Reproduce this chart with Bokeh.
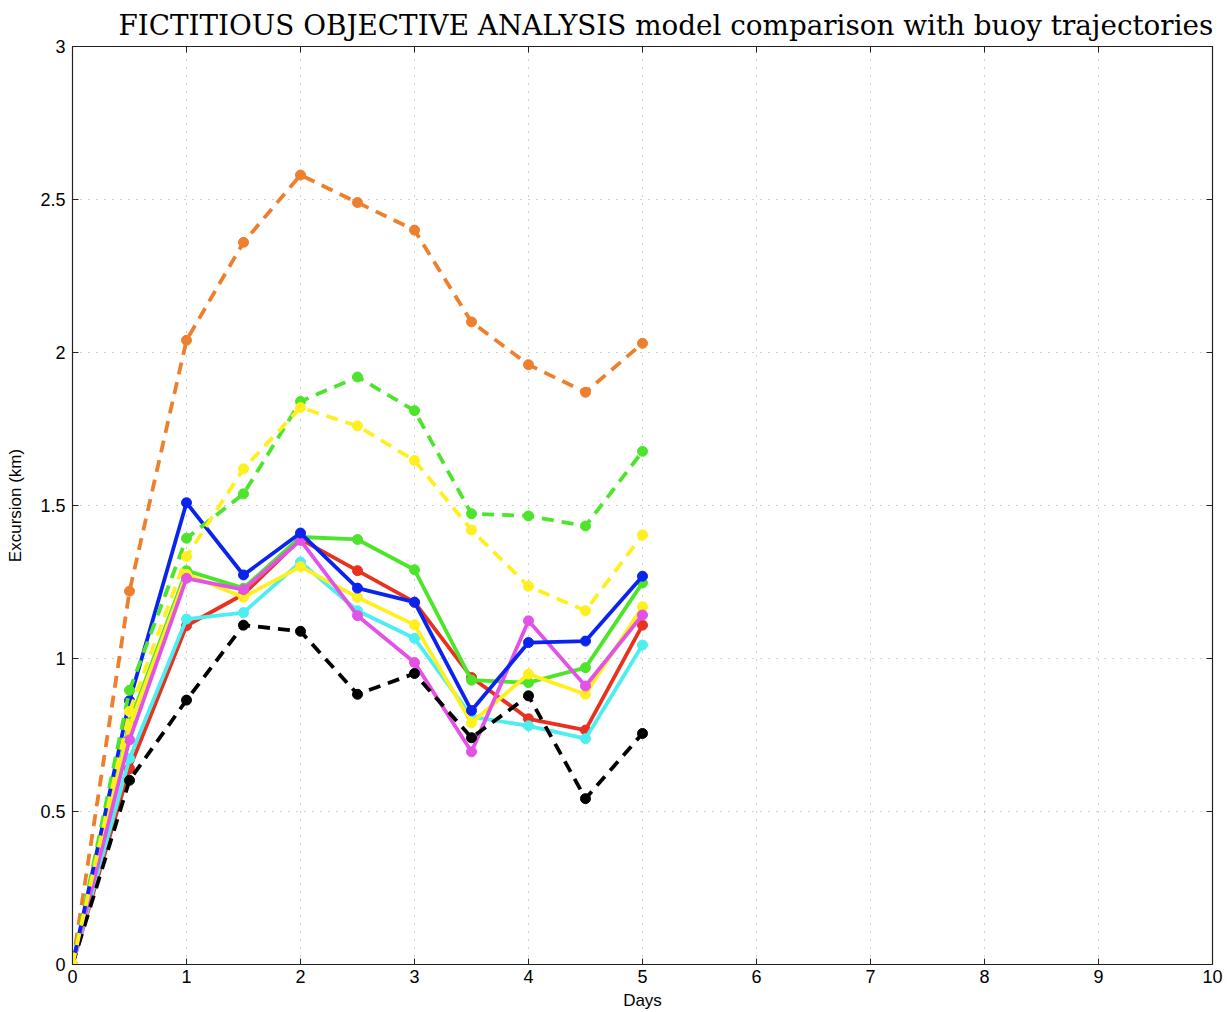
from bokeh.plotting import figure
from bokeh.models import LinearAxis, Range1d, FixedTicker
from bokeh.embed import file_html
from bokeh.resources import INLINE

days = [0, 0.5, 1, 1.5, 2, 2.5, 3, 3.5, 4, 4.5, 5]

red_solid     = [0, 0.640, 1.107, 1.210, 1.390, 1.287, 1.184, 0.938, 0.803, 0.766, 1.109]
green_solid   = [0, 0.790, 1.287, 1.230, 1.397, 1.389, 1.290, 0.929, 0.921, 0.970, 1.247]
cyan_solid    = [0, 0.673, 1.129, 1.150, 1.315, 1.156, 1.066, 0.810, 0.780, 0.738, 1.044]
yellow_solid  = [0, 0.777, 1.275, 1.200, 1.300, 1.200, 1.110, 0.790, 0.949, 0.883, 1.169]
magenta_solid = [0, 0.734, 1.262, 1.225, 1.386, 1.140, 0.987, 0.695, 1.123, 0.910, 1.142]
blue_solid    = [0, 0.862, 1.509, 1.273, 1.410, 1.230, 1.184, 0.830, 1.052, 1.057, 1.269]
black_dashed  = [0, 0.602, 0.864, 1.109, 1.089, 0.883, 0.951, 0.741, 0.878, 0.542, 0.755]
orange_dashed = [0, 1.220, 2.040, 2.360, 2.580, 2.490, 2.400, 2.100, 1.960, 1.870, 2.030]
green_dashed  = [0, 0.896, 1.393, 1.538, 1.840, 1.920, 1.810, 1.473, 1.466, 1.433, 1.677]
yellow_dashed = [0, 0.827, 1.333, 1.620, 1.820, 1.760, 1.647, 1.420, 1.236, 1.156, 1.404]

x_ticks = [0, 1, 2, 3, 4, 5, 6, 7, 8, 9, 10]
y_ticks = [0, 0.5, 1, 1.5, 2, 2.5, 3]

series = [
    (red_solid, "#E8321E", "solid"),
    (green_solid, "#4DE52C", "solid"),
    (cyan_solid, "#4CEEF2", "solid"),
    (yellow_solid, "#FFEF1F", "solid"),
    (magenta_solid, "#E352E6", "solid"),
    (blue_solid, "#0A24F0", "solid"),
    (black_dashed, "#000000", "dashed"),
    (orange_dashed, "#EE7F2D", "dashed"),
    (green_dashed, "#4DE52C", "dashed"),
    (yellow_dashed, "#FFEF1F", "dashed"),
]

p = figure(width=1227, height=1012, output_backend="svg", toolbar_location=None,
           x_range=Range1d(0, 10), y_range=Range1d(0, 3),
           min_border_left=72, min_border_right=15, min_border_top=46, min_border_bottom=48)

p.title.text = "FICTITIOUS OBJECTIVE ANALYSIS model comparison with buoy trajectories"
p.title.text_font = "DejaVu Serif"
p.title.text_font_size = "27.8px"
p.title.text_font_style = "normal"
p.title.align = "left"
p.title.offset = 46
p.title.standoff = 9
p.title.text_color = "#000000"

p.background_fill_color = "white"
p.border_fill_color = "white"
p.outline_line_color = "#222222"
p.outline_line_width = 1.2

for ax, ticks in ((p.xaxis[0], x_ticks), (p.yaxis[0], y_ticks)):
    ax.ticker = FixedTicker(ticks=ticks)
    ax.major_tick_in = 6
    ax.major_tick_out = 0
    ax.minor_tick_line_color = None
    ax.axis_line_color = "#222222"
    ax.major_tick_line_color = "#222222"
    ax.major_label_text_font = "Liberation Sans"
    ax.major_label_text_font_size = "18px"
    ax.major_label_text_color = "#000000"
    ax.axis_label_text_font = "Liberation Sans"
    ax.axis_label_text_font_size = "17px"
    ax.axis_label_text_font_style = "normal"
    ax.axis_label_text_color = "#000000"

p.xaxis[0].axis_label = "Days"
p.xaxis[0].major_label_standoff = 5
p.xaxis[0].axis_label_standoff = 5
p.yaxis[0].axis_label = "Excursion (km)"
p.yaxis[0].major_label_standoff = 7
p.yaxis[0].axis_label_standoff = 12

for loc, ticks in (("above", x_ticks), ("right", y_ticks)):
    ax = LinearAxis(ticker=FixedTicker(ticks=ticks))
    ax.major_tick_in = 6
    ax.major_tick_out = 0
    ax.minor_tick_line_color = None
    ax.axis_line_color = "#222222"
    ax.major_tick_line_color = "#222222"
    ax.major_label_overrides = {t: "" for t in ticks}
    ax.major_label_standoff = 0
    p.add_layout(ax, loc)

for g in (p.xgrid[0], p.ygrid[0]):
    g.grid_line_color = "#a0a0a0"
    g.grid_line_dash = "1 7"
    g.grid_line_width = 1
p.xgrid[0].ticker = FixedTicker(ticks=x_ticks)
p.ygrid[0].ticker = FixedTicker(ticks=y_ticks)

for vals, color, dash in series:
    p.line(days, vals, line_color=color, line_width=3.8,
           line_dash=("solid" if dash == "solid" else "12 8"))
    p.scatter(days, vals, size=10, fill_color=color, line_color=color)

open("out.html", "w").write(file_html(p, INLINE))
